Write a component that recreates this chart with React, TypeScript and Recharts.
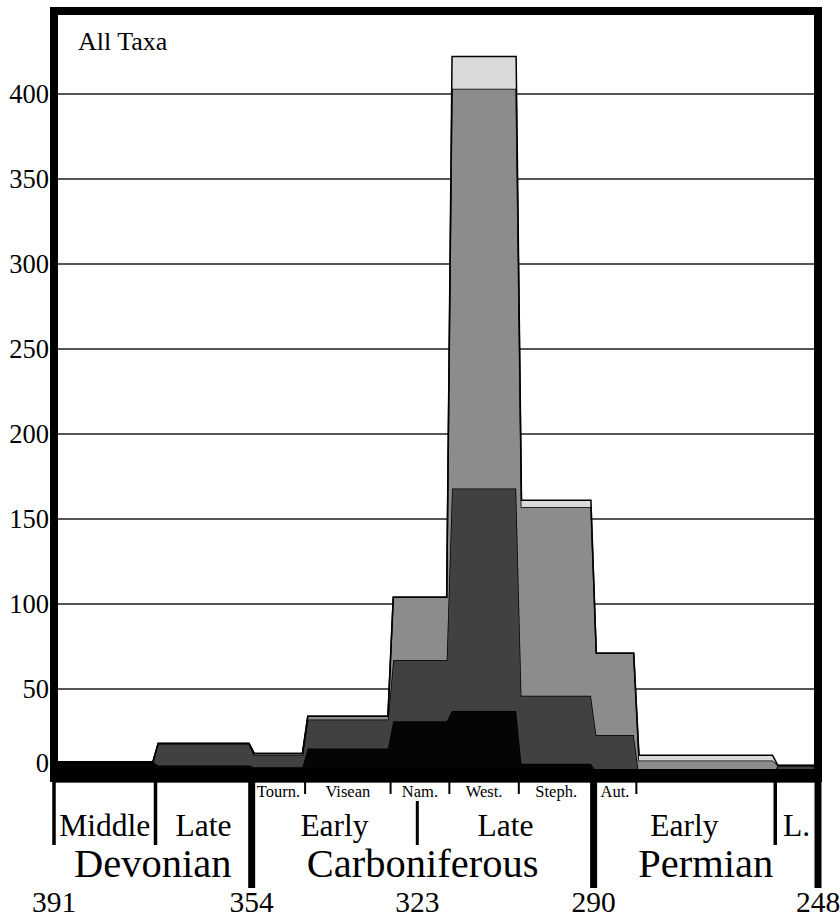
import { ComposedChart, Area, XAxis, YAxis, CartesianGrid, ReferenceLine, ReferenceArea } from "recharts";

// interval boundaries in Ma (oldest -> youngest)
const BOUNDARIES = [391, 372, 354, 344, 328, 317, 304, 290, 282, 256, 248];

// number of taxa per interval, four stacked groups (bottom -> top)
const BLACK = [7, 5, 4, 15, 31, 37, 6, 1, 0, 0];
const DARK = [0, 13, 7, 17, 36, 131, 40, 22, 0, 5];
const MEDIUM = [0, 0, 1, 2, 37, 235, 111, 48, 8, 0];
const LIGHT = [0, 0, 0, 0, 0, 19, 4, 0, 3, 0];

const Y_TICKS = [0, 50, 100, 150, 200, 250, 300, 350, 400];

const STAGES: [string, number, number][] = [
  ["Tourn.", 354, 344],
  ["Visean", 344, 328],
  ["Nam.", 328, 317],
  ["West.", 317, 304],
  ["Steph.", 304, 290],
  ["Aut.", 290, 282],
];
const EPOCHS: [string, number, number][] = [
  ["Middle", 391, 372],
  ["Late", 372, 354],
  ["Early", 354, 323],
  ["Late", 323, 290],
  ["Early", 290, 256],
  ["L.", 256, 248],
];
const PERIODS: [string, number, number][] = [
  ["Devonian", 391, 354],
  ["Carboniferous", 354, 290],
  ["Permian", 290, 248],
];
const AGE_LABELS = [391, 354, 323, 290, 248];

const PERIOD_LINES = [354, 290, 248];
const EPOCH_LINES = [391, 372, 256];
const STAGE_LINES = [344, 328, 317, 304, 282];
const MID_CARB = 323;

const Y_MIN = -4.7;
const Y_MAX = 448.8;
const FONT = '"Liberation Serif", "Times New Roman", serif';

const rows: any[] = [];
for (let i = 0; i < BOUNDARIES.length - 1; i++) {
  const vals = { black: BLACK[i], dark: DARK[i], medium: MEDIUM[i], light: LIGHT[i] };
  const start = BOUNDARIES[i];
  const end = BOUNDARIES[i + 1];
  rows.push({ age: i === 0 ? start : start - 0.5, ...vals });
  rows.push({ age: i === BOUNDARIES.length - 2 ? end : end + 0.5, ...vals });
}

type Mark = { at: number; kind: string; text?: string };
const marks: Mark[] = [];
PERIOD_LINES.forEach((a) => marks.push({ at: a, kind: "period" }));
EPOCH_LINES.forEach((a) => marks.push({ at: a, kind: "epoch" }));
STAGE_LINES.forEach((a) => marks.push({ at: a, kind: "stage" }));
marks.push({ at: MID_CARB, kind: "mid" });
STAGES.forEach(([t, a, b]) => marks.push({ at: (a + b) / 2, kind: "stageLabel", text: t }));
EPOCHS.forEach(([t, a, b]) => marks.push({ at: (a + b) / 2, kind: "epochLabel", text: t }));
PERIODS.forEach(([t, a, b]) => marks.push({ at: (a + b) / 2, kind: "periodLabel", text: t }));
AGE_LABELS.forEach((a) => marks.push({ at: a, kind: "ageLabel", text: String(a) }));
const xTicks = Array.from(new Set(marks.map((m) => m.at)));

function BottomTick(props: any) {
  const { x, y, payload } = props;
  const list = marks.filter((m) => m.at === payload.value);
  return (
    <g>
      {list.map((m, i) => {
        switch (m.kind) {
          case "period":
            return <line key={i} x1={x} x2={x} y1={y} y2={y + 106} stroke="#000" strokeWidth={7} />;
          case "epoch":
            return <line key={i} x1={x} x2={x} y1={y} y2={y + 63} stroke="#000" strokeWidth={3.5} />;
          case "mid":
            return <line key={i} x1={x} x2={x} y1={y + 19} y2={y + 63} stroke="#000" strokeWidth={3} />;
          case "stage":
            return <line key={i} x1={x} x2={x} y1={y} y2={y + 12} stroke="#000" strokeWidth={2} />;
          case "stageLabel":
            return (
              <text key={i} x={x} y={y + 15} textAnchor="middle" fontFamily={FONT} fontSize={16.5} fill="#000">
                {m.text}
              </text>
            );
          case "epochLabel":
            return (
              <text key={i} x={x} y={y + 54} textAnchor="middle" fontFamily={FONT} fontSize={31.5} fill="#000">
                {m.text}
              </text>
            );
          case "periodLabel":
            return (
              <text key={i} x={x} y={y + 95} textAnchor="middle" fontFamily={FONT} fontSize={40.5} fill="#000">
                {m.text}
              </text>
            );
          case "ageLabel":
            return (
              <text key={i} x={x} y={y + 130} textAnchor="middle" fontFamily={FONT} fontSize={29.5} fill="#000">
                {m.text}
              </text>
            );
          default:
            return null;
        }
      })}
    </g>
  );
}

function LeftTick(props: any) {
  const { x, y, payload } = props;
  return (
    <text x={x} y={y} dy={payload.value === 0 ? -2 : 9} textAnchor="end" fontFamily={FONT} fontSize={26.5} fill="#000">
      {payload.value}
    </text>
  );
}

export default function App() {
  return (
    <div style={{ position: "absolute", left: 0, top: 0, width: 840, height: 918, background: "#fff" }}>
      <ComposedChart width={840} height={918} data={rows} margin={{ top: 11, right: 22, bottom: 0, left: 0 }}>
        <CartesianGrid horizontal vertical={false} stroke="#1e1e1e" strokeWidth={1.6} />
        <XAxis
          dataKey="age"
          type="number"
          domain={[248, 391]}
          reversed
          allowDataOverflow
          ticks={xTicks}
          interval={0}
          height={136}
          axisLine={false}
          tickLine={false}
          tickSize={0}
          tickMargin={0}
          tick={<BottomTick />}
        />
        <YAxis
          type="number"
          domain={[Y_MIN, Y_MAX]}
          allowDataOverflow
          ticks={Y_TICKS}
          interval={0}
          width={54}
          axisLine={false}
          tickLine={false}
          tickSize={0}
          tickMargin={5}
          tick={<LeftTick />}
        />
        <Area type="linear" dataKey="black" stackId="a" fill="#050505" fillOpacity={1} stroke="#000" strokeWidth={1.5} dot={false} activeDot={false} isAnimationActive={false} />
        <Area type="linear" dataKey="dark" stackId="a" fill="#414141" fillOpacity={1} stroke="#000" strokeWidth={1.5} dot={false} activeDot={false} isAnimationActive={false} />
        <Area type="linear" dataKey="medium" stackId="a" fill="#8c8c8c" fillOpacity={1} stroke="#000" strokeWidth={1.5} dot={false} activeDot={false} isAnimationActive={false} />
        <Area type="linear" dataKey="light" stackId="a" fill="#dadada" fillOpacity={1} stroke="#000" strokeWidth={1.5} dot={false} activeDot={false} isAnimationActive={false} />
        <ReferenceArea y1={Y_MIN} y2={2.9} fill="#000" fillOpacity={1} stroke="none" />
        <ReferenceLine x={391} stroke="#000" strokeWidth={8} />
        <ReferenceLine x={248} stroke="#000" strokeWidth={8} />
        <ReferenceLine y={Y_MAX} stroke="#000" strokeWidth={8} strokeLinecap="square" />
      </ComposedChart>
      <div style={{ position: "absolute", left: 78, top: 29, fontFamily: FONT, fontSize: 26, lineHeight: "26px", color: "#000" }}>
        All Taxa
      </div>
    </div>
  );
}
